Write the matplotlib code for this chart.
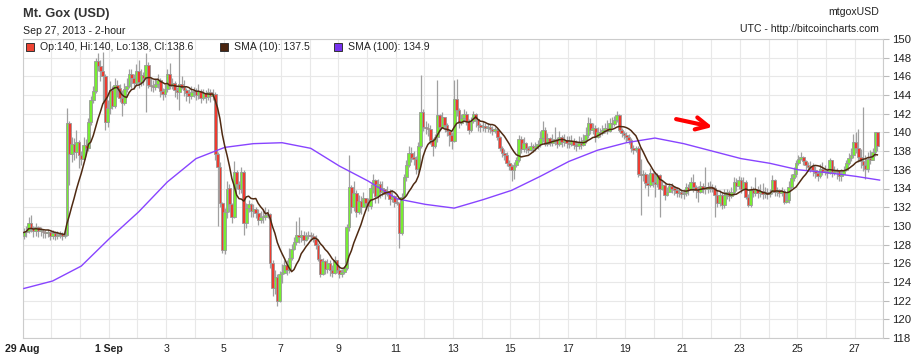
import numpy as np
import pandas as pd
import matplotlib
matplotlib.use('Agg')
import matplotlib.pyplot as plt

# 2-hour candles, Mt. Gox BTC/USD, 29 Aug - 27 Sep 2013 (one row per day)
closes = [
    [129.3, 129.5, 130.3, 129.8, 129.4, 129.9, 129.4, 129.5, 129.3, 129.2, 129.3, 128.9],
    [129.2, 128.9, 129.0, 129.1, 128.9, 129.0, 141.0, 137.7, 138.8, 137.9, 139.0, 137.6],
    [137.2, 138.7, 138.3, 141.1, 143.5, 144.4, 147.6, 147.1, 146.6, 146.0, 141.1, 142.6],
    [144.5, 142.8, 145.1, 144.8, 143.7, 143.2, 144.6, 145.0, 146.3, 145.8, 145.3, 146.6],
    [145.4, 146.2, 145.8, 147.2, 145.1, 145.0, 144.9, 145.2, 145.6, 144.4, 144.1, 144.7],
    [146.3, 145.0, 145.3, 144.5, 144.3, 145.2, 144.9, 144.5, 144.2, 143.9, 144.3, 144.4],
    [144.0, 144.4, 143.7, 144.2, 143.8, 144.3, 143.9, 144.1, 137.7, 136.3, 132.4, 127.4],
    [131.5, 134.0, 132.3, 131.0, 135.8, 134.5, 133.9, 135.8, 130.3, 131.9, 132.3, 131.6],
    [131.8, 131.4, 130.6, 130.9, 131.0, 131.2, 131.3, 126.0, 123.4, 124.5, 122.0, 124.9],
    [125.0, 125.8, 125.3, 126.6, 127.5, 128.3, 129.0, 128.8, 129.0, 128.5, 128.9, 129.0],
    [128.9, 128.6, 127.9, 126.5, 124.9, 126.2, 125.4, 126.0, 125.3, 125.0, 126.3, 125.3],
    [124.9, 125.1, 125.5, 129.9, 134.2, 132.0, 133.5, 131.5, 132.7, 132.0, 133.0, 132.4],
    [132.1, 134.0, 134.9, 133.2, 134.5, 133.6, 134.0, 133.4, 133.7, 132.9, 133.2, 132.6],
    [132.4, 129.2, 133.1, 135.2, 136.5, 137.8, 137.3, 137.2, 136.1, 138.5, 142.2, 140.6],
    [140.5, 140.4, 139.2, 138.5, 139.5, 141.9, 140.6, 141.7, 140.8, 140.2, 139.7, 139.1],
    [143.6, 142.4, 141.0, 141.5, 142.0, 141.2, 140.3, 141.2, 142.0, 141.4, 140.8, 140.6],
    [140.7, 140.5, 140.6, 140.4, 140.2, 140.3, 139.5, 138.3, 137.8, 137.6, 136.7, 136.4],
    [136.0, 136.5, 137.0, 139.3, 138.2, 138.9, 138.3, 138.1, 138.6, 138.3, 138.5, 138.8],
    [139.4, 140.3, 138.8, 139.4, 138.9, 139.1, 139.3, 138.8, 139.5, 139.0, 139.2, 138.9],
    [138.8, 139.1, 138.7, 138.5, 138.9, 138.7, 139.2, 139.7, 141.0, 140.3, 140.5, 139.5],
    [140.1, 139.9, 140.3, 140.5, 140.2, 141.0, 140.9, 141.3, 141.9, 140.3, 139.9, 139.7],
    [139.5, 139.2, 138.3, 138.1, 138.3, 135.6, 135.4, 135.5, 134.6, 134.4, 135.7, 134.7],
    [134.5, 135.4, 134.0, 134.4, 133.3, 133.6, 134.3, 134.0, 133.8, 133.5, 133.6, 133.4],
    [133.5, 134.2, 133.8, 134.7, 134.2, 133.8, 133.6, 134.3, 134.0, 133.9, 134.2, 134.1],
    [134.0, 133.3, 132.4, 133.3, 132.2, 133.3, 133.6, 133.2, 133.6, 134.7, 134.3, 134.9],
    [134.0, 134.7, 133.1, 132.2, 133.8, 133.5, 133.9, 133.5, 133.7, 133.4, 133.6, 133.4],
    [133.6, 134.9, 133.6, 133.8, 133.5, 133.7, 132.6, 132.8, 134.2, 135.1, 135.6, 136.7],
    [137.2, 137.4, 136.9, 136.5, 136.3, 136.4, 136.0, 135.7, 135.3, 136.1, 135.8, 135.9],
    [135.7, 137.0, 135.8, 136.0, 135.9, 135.3, 135.6, 136.0, 136.7, 137.3, 137.6, 139.0],
    [138.3, 137.4, 136.9, 136.5, 136.1, 137.2, 137.1, 137.9, 140.0, 138.6],
]
highs = [
    [129.8, 130.0, 130.9, 131.2, 130.0, 130.3, 130.0, 129.9, 129.7, 129.6, 129.7, 129.5],
    [129.6, 129.4, 129.4, 129.5, 129.3, 129.4, 142.6, 141.2, 139.5, 139.4, 140.3, 139.2],
    [138.0, 139.5, 139.3, 141.5, 143.9, 145.0, 148.0, 148.5, 147.8, 148.6, 146.3, 143.5],
    [145.5, 145.0, 145.8, 145.6, 145.2, 144.5, 145.3, 145.8, 146.8, 146.8, 146.3, 147.3],
    [147.7, 146.8, 146.5, 148.5, 147.5, 145.8, 145.6, 145.8, 146.3, 145.8, 144.8, 145.2],
    [146.8, 147.4, 145.8, 145.5, 144.9, 149.0, 146.0, 145.6, 144.8, 144.6, 145.0, 144.9],
    [144.8, 145.2, 144.6, 144.7, 144.5, 144.8, 144.6, 144.6, 144.3, 137.9, 136.8, 132.6],
    [131.9, 134.8, 134.5, 132.5, 136.9, 136.0, 134.8, 136.3, 136.0, 132.4, 132.8, 132.4],
    [132.3, 132.0, 131.8, 131.6, 131.8, 132.0, 131.8, 131.4, 126.3, 125.3, 124.8, 125.2],
    [125.9, 126.4, 126.3, 127.6, 128.1, 128.8, 130.5, 131.0, 129.6, 129.4, 129.3, 129.4],
    [129.3, 129.2, 129.0, 128.2, 127.0, 126.6, 126.4, 126.5, 126.3, 125.8, 126.8, 126.4],
    [125.8, 125.4, 125.7, 130.2, 137.6, 134.4, 134.8, 133.8, 133.3, 133.2, 133.6, 133.0],
    [133.0, 134.5, 135.6, 135.0, 135.0, 134.8, 134.8, 134.0, 134.3, 133.9, 133.8, 133.3],
    [133.0, 132.6, 133.5, 135.6, 137.0, 138.5, 138.4, 138.0, 137.5, 139.0, 146.1, 142.5],
    [141.2, 141.0, 140.8, 139.4, 139.8, 145.6, 142.0, 142.2, 141.6, 141.0, 140.3, 140.0],
    [145.6, 145.7, 142.6, 142.0, 142.5, 142.3, 141.4, 141.6, 142.3, 142.1, 141.3, 141.0],
    [141.2, 141.0, 141.0, 140.9, 140.7, 140.6, 140.5, 139.6, 138.5, 138.2, 137.9, 137.0],
    [136.6, 136.8, 137.4, 139.7, 139.6, 139.5, 139.0, 138.6, 139.0, 138.8, 139.0, 139.2],
    [140.2, 141.2, 140.6, 139.9, 139.5, 139.8, 140.6, 139.5, 140.2, 139.7, 139.8, 139.6],
    [139.6, 139.7, 139.4, 139.2, 139.6, 139.5, 139.8, 140.6, 141.7, 141.5, 141.0, 140.8],
    [140.6, 140.5, 140.8, 141.0, 141.3, 141.5, 141.6, 141.8, 142.3, 142.0, 140.5, 140.2],
    [140.0, 139.8, 139.4, 138.7, 138.6, 138.5, 137.2, 136.0, 135.8, 135.5, 136.2, 135.8],
    [135.8, 135.7, 135.6, 134.8, 134.6, 134.2, 134.6, 134.6, 134.3, 134.2, 134.0, 134.0],
    [134.0, 134.6, 134.5, 135.2, 135.5, 134.4, 134.3, 134.8, 134.6, 136.3, 134.7, 134.8],
    [134.5, 134.4, 133.8, 133.8, 133.6, 133.9, 134.0, 133.8, 134.2, 135.2, 135.1, 135.3],
    [135.2, 135.2, 134.9, 133.4, 134.3, 134.2, 135.2, 134.3, 134.5, 134.6, 134.2, 134.1],
    [134.0, 135.4, 135.0, 134.2, 134.0, 134.2, 133.9, 133.5, 134.8, 135.5, 136.3, 137.0],
    [137.6, 137.9, 137.5, 137.1, 136.8, 136.9, 136.7, 136.4, 135.9, 136.6, 136.8, 136.5],
    [136.2, 137.3, 137.1, 136.4, 136.2, 136.0, 136.1, 136.4, 137.1, 137.8, 138.3, 139.8],
    [140.1, 140.4, 138.2, 142.7, 137.6, 137.9, 138.1, 138.3, 140.1, 140.0],
]
lows = [
    [128.6, 128.8, 129.2, 129.3, 128.8, 128.9, 128.8, 128.9, 128.7, 128.7, 128.8, 128.5],
    [128.6, 128.5, 128.6, 128.7, 128.5, 128.7, 128.9, 134.4, 136.8, 137.1, 137.3, 136.2],
    [136.5, 137.0, 137.8, 138.0, 140.8, 143.2, 144.2, 146.6, 145.5, 143.2, 140.3, 140.6],
    [142.0, 142.5, 142.6, 143.8, 143.3, 141.8, 142.9, 144.3, 144.8, 144.8, 144.6, 145.0],
    [144.8, 145.0, 145.1, 142.2, 144.8, 144.4, 144.3, 144.5, 144.8, 143.8, 143.5, 143.8],
    [144.3, 144.6, 144.6, 143.8, 143.6, 142.4, 144.7, 143.9, 143.4, 143.2, 143.6, 143.8],
    [143.5, 143.6, 143.2, 143.5, 143.2, 143.5, 143.3, 143.5, 137.0, 130.0, 132.0, 127.1],
    [127.0, 130.8, 131.5, 130.3, 130.8, 134.0, 133.4, 133.5, 129.0, 129.8, 131.5, 131.0],
    [131.0, 130.8, 130.1, 130.3, 130.3, 130.6, 130.8, 125.5, 122.5, 122.7, 121.4, 121.9],
    [123.9, 124.8, 124.7, 125.0, 126.3, 127.4, 128.0, 128.2, 128.3, 128.0, 128.4, 128.6],
    [128.4, 128.3, 127.5, 126.2, 124.5, 124.7, 124.9, 125.0, 124.6, 124.5, 124.8, 125.0],
    [124.4, 124.5, 124.8, 125.3, 129.5, 131.4, 131.6, 131.0, 131.3, 131.3, 132.2, 131.8],
    [131.6, 131.8, 133.5, 132.5, 132.4, 133.0, 133.2, 132.9, 133.2, 132.2, 132.6, 132.0],
    [132.2, 127.6, 129.0, 133.0, 134.8, 136.3, 136.8, 136.5, 135.5, 135.8, 138.3, 140.2],
    [139.8, 139.6, 138.8, 137.5, 138.3, 139.0, 140.2, 140.5, 140.0, 139.6, 138.5, 138.2],
    [139.0, 141.8, 140.5, 140.8, 141.2, 140.8, 139.8, 140.1, 141.0, 140.6, 140.2, 140.1],
    [140.2, 140.0, 140.1, 139.9, 139.7, 139.9, 139.2, 138.0, 137.4, 137.0, 136.4, 136.0],
    [134.8, 135.0, 136.3, 136.8, 137.8, 137.9, 137.8, 137.8, 138.0, 137.9, 138.0, 138.2],
    [138.4, 139.0, 138.5, 138.5, 138.5, 138.6, 138.7, 138.3, 138.6, 138.4, 138.6, 138.3],
    [138.3, 138.5, 138.2, 138.0, 138.2, 138.2, 138.6, 138.9, 139.4, 139.8, 139.8, 139.0],
    [139.4, 139.5, 139.7, 139.9, 139.8, 140.0, 140.5, 140.7, 141.1, 140.0, 139.5, 139.3],
    [139.0, 138.8, 137.9, 137.7, 137.9, 135.2, 131.2, 134.8, 134.1, 133.2, 134.2, 134.2],
    [133.1, 134.2, 131.0, 133.8, 132.8, 133.2, 133.8, 133.5, 133.3, 133.1, 133.1, 133.0],
    [132.9, 133.2, 133.3, 133.8, 133.6, 133.0, 132.6, 133.5, 133.5, 133.4, 133.5, 133.6],
    [133.6, 131.0, 132.0, 132.1, 131.8, 131.9, 132.9, 132.7, 133.0, 133.3, 133.7, 133.9],
    [133.5, 134.1, 132.9, 132.0, 132.0, 133.1, 133.2, 133.0, 133.1, 132.9, 133.0, 132.9],
    [133.1, 133.4, 133.2, 133.2, 133.1, 133.2, 132.3, 132.4, 132.5, 133.9, 134.8, 135.2],
    [136.5, 137.0, 136.5, 136.0, 135.9, 135.8, 135.3, 135.1, 134.8, 135.1, 135.4, 135.4],
    [135.1, 135.5, 135.2, 135.4, 135.0, 134.8, 134.8, 135.5, 135.9, 136.5, 136.9, 137.3],
    [137.8, 136.8, 136.2, 135.9, 135.0, 135.8, 136.6, 137.1, 137.5, 138.0],
]
first_open = 128.9

# SMA(100) at the start of each day, plus the last candle
sma100_day = list(range(30)) + [29.83]
sma100 = [123.3, 124.1, 125.7, 128.7, 131.5, 134.7, 137.2, 138.4, 138.8, 138.9,
          138.3, 136.4, 134.8, 132.9, 132.3, 131.9, 132.8, 133.8, 135.3, 136.9,
          138.1, 138.9, 139.4, 138.8, 138.0, 137.2, 136.7, 136.0, 135.7, 135.3, 134.9]

day_labels = ['29 Aug', '1 Sep', '3', '5', '7', '9', '11', '13', '15', '17',
              '19', '21', '23', '25', '27']
day_offsets = [0, 3, 5, 7, 9, 11, 13, 15, 17, 19, 21, 23, 25, 27, 29]

c = np.array([v for row in closes for v in row])
h = np.array([v for row in highs for v in row])
l = np.array([v for row in lows for v in row])
o = np.concatenate([[first_open], c[:-1]])   # each 2h candle opens at previous close
x = np.arange(len(c)) + 0.5
sma10 = pd.Series(c).rolling(10, min_periods=1).mean()

plt.rcParams['font.family'] = ['Liberation Sans', 'DejaVu Sans']
fig = plt.figure(figsize=(9.21, 3.55), dpi=100)
ax = fig.add_axes([22.7 / 921, 1 - 338 / 355, (883.3 - 22.7) / 921, (338 - 39) / 355])

up = c >= o
ax.vlines(x, l, h, color='#a0a0a0', lw=0.9, zorder=2)
ax.bar(x, np.maximum(np.abs(c - o), 0.12), bottom=np.minimum(o, c), width=1.15,
       color=np.where(up, '#77ee33', '#ee3b30'), edgecolor='#999999', linewidth=0.6, zorder=3)

ax.plot(np.array(sma100_day) * 12 + 0.5, sma100, color='#8844ff', lw=1.0, zorder=4)
ax.plot(x, sma10, color='#4f2a12', lw=1.1, zorder=5)

# red arrow
ax.annotate('', xy=(289.7, 140.52), xytext=(272.2, 141.49),
            arrowprops=dict(arrowstyle='->', color='#ff0000', lw=3.0, mutation_scale=22))

ax.set_xlim(0, 360)
ax.set_ylim(118, 150)
ax.set_xticks([d * 12 for d in day_offsets])
ax.set_xticklabels(day_labels, fontsize=7.6, color='#222222')
for lab in ax.get_xticklabels()[:2]:
    lab.set_fontweight('bold')
ax.set_xticks(np.arange(0, 361, 12), minor=True)
ax.set_yticks(np.arange(118, 151, 2))
ax.yaxis.tick_right()
ax.tick_params(axis='y', labelsize=8.2, colors='#bbbbbb', labelcolor='#222222', length=4, pad=2)
ax.tick_params(axis='x', length=0, pad=4)
ax.tick_params(axis='x', which='minor', length=0)
ax.grid(True, which='both', color='#e8e8e8', lw=0.8, zorder=0)
ax.set_axisbelow(True)
for s in ax.spines.values():
    s.set_color('#cccccc')

# legend row
items = [(7 / 860, '#ee4433', 'Op:140, Hi:140, Lo:138, Cl:138.6'),
         (201 / 860, '#4a2510', 'SMA (10): 137.5'),
         (315 / 860, '#7733ee', 'SMA (100): 134.9')]
for lx, col, txt in items:
    ax.plot([lx], [0.972], marker='s', ms=6, mfc=col, mec='#333333', mew=0.7,
            transform=ax.transAxes, clip_on=False, zorder=6)
    ax.text(lx + 10 / 860, 0.972, txt, transform=ax.transAxes, fontsize=7.6,
            color='#222222', va='center', ha='left')

fig.text(22.7 / 921, 1 - 14 / 355, 'Mt. Gox (USD)', fontsize=9.3, fontweight='bold',
         color='#333333', va='center', ha='left')
fig.text(22.7 / 921, 1 - 31 / 355, 'Sep 27, 2013 - 2-hour', fontsize=7.6,
         color='#222222', va='center', ha='left')
fig.text(879 / 921, 1 - 12 / 355, 'mtgoxUSD', fontsize=7.6, color='#222222',
         va='center', ha='right')
fig.text(879 / 921, 1 - 29 / 355, 'UTC - http://bitcoincharts.com', fontsize=7.6,
         color='#222222', va='center', ha='right')

fig.savefig('out.png', dpi=100)
